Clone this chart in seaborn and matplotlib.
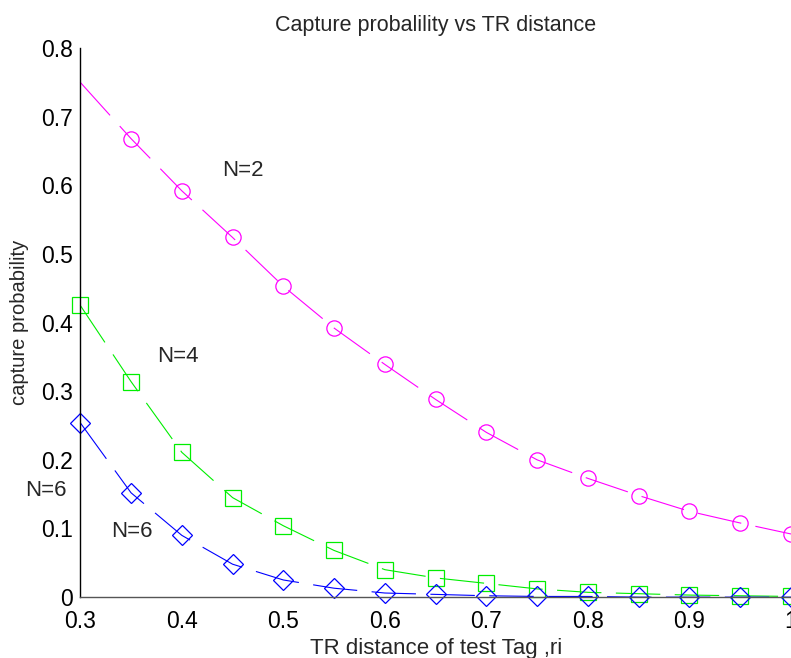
import numpy as np
import pandas as pd
import matplotlib
matplotlib.use("Agg")
import matplotlib.pyplot as plt
import seaborn as sns

x = [0.30, 0.35, 0.40, 0.45, 0.50, 0.55, 0.60, 0.65, 0.70, 0.75, 0.80, 0.85, 0.90, 0.95, 1.00]
p_n2 = [0.750, 0.668, 0.592, 0.524, 0.453, 0.392, 0.339, 0.288, 0.240, 0.200, 0.173, 0.148, 0.125, 0.108, 0.092]
p_n4 = [0.425, 0.314, 0.211, 0.145, 0.104, 0.068, 0.040, 0.028, 0.020, 0.012, 0.007, 0.005, 0.003, 0.002, 0.001]
p_n6 = [0.254, 0.152, 0.090, 0.048, 0.025, 0.013, 0.006, 0.004, 0.002, 0.001, 0.001, 0.000, 0.000, 0.000, 0.000]
xtick_vals = [0.3, 0.4, 0.5, 0.6, 0.7, 0.8, 0.9, 1.0]
xtick_labels = ["0.3", "0.4", "0.5", "0.6", "0.7", "0.8", "0.9", "1"]
ytick_vals = [0, 0.1, 0.2, 0.3, 0.4, 0.5, 0.6, 0.7, 0.8]
ytick_labels = ["0", "0.1", "0.2", "0.3", "0.4", "0.5", "0.6", "0.7", "0.8"]

sns.set_style("white")
plt.rcParams['font.family'] = ['Liberation Sans', 'DejaVu Sans']

fig = plt.figure(figsize=(7.91, 6.58), dpi=100)
ax = fig.add_axes([0.1015, 0.0925, 0.8985, 0.8345])

series = [
    (p_n2, "#ff00ff", "o", 11, slice(1, None)),
    (p_n4, "#00ee00", "s", 11, None),
    (p_n6, "#0000ff", "D", 10, None),
]
for ys, col, mk, ms, mev in series:
    sns.lineplot(x=x, y=ys, ax=ax, color=col, linewidth=0.8,
                 linestyle=(0, (40, 13)), marker=mk, markersize=ms,
                 markerfacecolor="none", markeredgecolor=col,
                 markeredgewidth=0.9, markevery=mev, clip_on=False)

ax.set_xlim(0.3, 1.0)
ax.set_ylim(0, 0.8)
ax.set_xticks(xtick_vals)
ax.set_xticklabels(xtick_labels)
ax.set_yticks(ytick_vals)
ax.set_yticklabels(ytick_labels)
ax.tick_params(direction="in", length=5, width=0.8, labelsize=16.5, colors="black")
ax.tick_params(axis="x", pad=9)
ax.tick_params(axis="y", pad=5)
for s in ["top", "right"]:
    ax.spines[s].set_visible(False)
ax.spines["left"].set_color("black")
ax.spines["left"].set_linewidth(1.0)
ax.spines["bottom"].set_color("#555555")
ax.spines["bottom"].set_linewidth(1.0)

ax.set_title("Capture probalility vs TR distance", fontsize=15.5, pad=12)
ax.set_xlabel("TR distance of test Tag ,ri", fontsize=16, labelpad=4)
ax.set_ylabel("capture probability", fontsize=14.5, labelpad=9)

ax.text(0.44, 0.622, "N=2", fontsize=16, va="center", ha="left")
ax.text(0.376, 0.350, "N=4", fontsize=16, va="center", ha="left")
ax.text(0.246, 0.156, "N=6", fontsize=16, va="center", ha="left", clip_on=False)
ax.text(0.330, 0.095, "N=6", fontsize=16, va="center", ha="left")

fig.savefig("out.png", dpi=100)
